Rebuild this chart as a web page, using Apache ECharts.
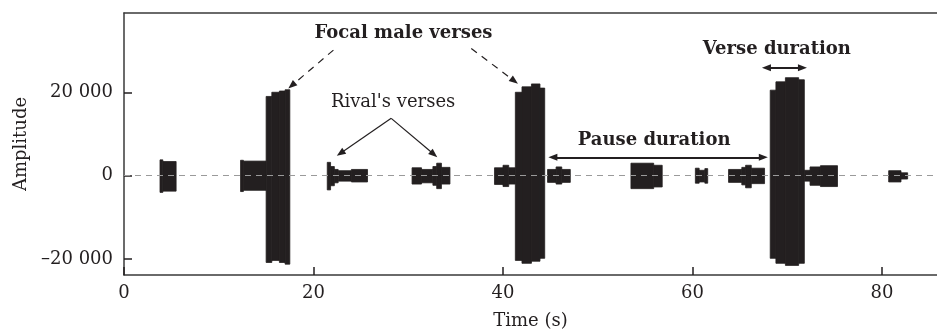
<!DOCTYPE html>
<html><head><meta charset="utf-8">
<script src="https://cdn.jsdelivr.net/npm/echarts@6/dist/echarts.min.js"></script>
<style>html,body{margin:0;padding:0;background:#fff}#c{width:937px;height:332px}</style>
</head><body><div id="c"></div>
<script>
// Waveform envelope segments (time in s, amplitude)
const segStart  = [3.8, 4.1, 12.3, 12.6, 15.0, 15.6, 16.4, 17.0,
  21.45, 21.8, 22.2, 22.6, 24.0,
  30.4, 31.4, 32.6, 33.0, 33.5,
  39.1, 40.0, 40.6,
  41.3, 42.0, 43.0, 43.9,
  44.7, 45.6, 46.2,
  53.5, 55.9,
  60.3, 60.7, 61.3,
  63.8, 65.2, 65.6, 66.2,
  68.2, 68.8, 69.8, 71.2,
  71.8, 72.4, 73.5,
  80.7, 82.0];
const segEnd    = [4.1, 5.5, 12.6, 15.0, 15.6, 16.4, 17.0, 17.5,
  21.8, 22.2, 22.6, 24.0, 25.7,
  31.4, 32.6, 33.0, 33.5, 34.4,
  40.0, 40.6, 41.3,
  42.0, 43.0, 43.9, 44.4,
  45.6, 46.2, 47.1,
  55.9, 56.8,
  60.7, 61.3, 61.6,
  65.2, 65.6, 66.2, 67.6,
  68.8, 69.8, 71.2, 71.8,
  72.4, 73.5, 75.3,
  82.0, 82.7];
const segTop    = [3800, 3400, 3700, 3500, 19000, 20000, 20300, 20600,
  3200, 2200, 1500, 1200, 1500,
  1900, 1500, 2200, 3000, 2000,
  1900, 2500, 1900,
  20000, 21300, 22000, 21000,
  1500, 2100, 1500,
  3000, 2500,
  1800, 1300, 1700,
  1500, 2000, 2500, 1800,
  20500, 22500, 23500, 23000,
  1300, 2100, 2400,
  1200, 700];
const segBottom = [-4000, -3700, -3800, -3500, -20800, -20300, -20800, -21200,
  -3400, -2400, -1700, -1300, -1500,
  -2000, -1700, -2300, -3100, -2000,
  -2100, -2600, -2000,
  -20300, -21000, -20500, -19800,
  -1600, -2000, -1600,
  -3100, -2700,
  -1800, -1500, -1800,
  -1600, -2200, -2900, -1900,
  -19800, -21000, -21500, -21000,
  -1300, -2300, -2600,
  -1500, -800];

const xTicks = [0, 20, 40, 60, 80];
const yTicks = [-20000, 0, 20000];

// Annotations (data coordinates)
const textLabels = ['Focal male verses', "Rival's verses", 'Pause duration', 'Verse duration'];
const textX = [29.5, 28.4, 55.95, 68.9];
const textY = [34200, 17500, 8550, 30300];
const textBold = [true, false, true, true];

const dashedArrows = [[[22.1, 30100], [17.7, 21600]], [[36.65, 30500], [41.2, 22700]]];
const solidArrows = [[[28.2, 13750], [22.85, 5370]], [[28.2, 13750], [32.7, 5130]]];
const doubleArrows = [[[45.26, 4400], [67.47, 4400]], [[67.8, 25900], [71.6, 25900]]];

const FONT = 'DejaVu Serif';
const INK = '#231f20';
const AX = '#3a3a3a';

const segData = segStart.map((s, i) => [s, segEnd[i], segTop[i], segBottom[i]]);

function fmtY(v) {
  if (v === 0) return '0';
  const a = Math.abs(v);
  const s = String(a).replace(/\B(?=(\d{3})+(?!\d))/g, ' ');
  return (v < 0 ? '\u2013' : '') + s;
}

function mlPair(p, style, sym) {
  return [{coord: p[0], symbol: sym[0], lineStyle: style}, {coord: p[1], symbol: sym[1]}];
}

const chart = echarts.init(document.getElementById('c'), null, {renderer: 'canvas'});
const option = {
  animation: false,
  backgroundColor: '#fff',
  grid: {left: 124, top: 13, right: 0, bottom: 57, containLabel: false, outerBoundsMode: 'none'},
  xAxis: [{
    type: 'value', min: 0, max: 85.8, position: 'bottom',
    name: 'Time (s)', nameLocation: 'middle', nameGap: 37,
    nameTextStyle: {fontFamily: FONT, fontSize: 18, color: INK},
    axisLine: {show: true, onZero: false, lineStyle: {color: AX, width: 1.5}},
    axisTick: {show: true, inside: true, length: 8, customValues: xTicks, lineStyle: {color: INK, width: 1.5}},
    axisLabel: {customValues: xTicks, fontFamily: FONT, fontSize: 18, color: INK, margin: 9},
    splitLine: {show: false}
  }, {
    type: 'value', min: 0, max: 85.8, position: 'top',
    axisLine: {show: true, onZero: false, lineStyle: {color: AX, width: 1.5}},
    axisTick: {show: false}, axisLabel: {show: false}, splitLine: {show: false}
  }],
  yAxis: {
    type: 'value', min: -23800, max: 39000,
    name: 'Amplitude', nameLocation: 'middle', nameGap: 92, nameRotate: 90,
    nameTextStyle: {fontFamily: FONT, fontSize: 18, color: INK},
    axisLine: {show: true, onZero: false, lineStyle: {color: AX, width: 1.5}},
    axisTick: {show: true, inside: true, length: 8, customValues: yTicks, lineStyle: {color: INK, width: 1.5}},
    axisLabel: {customValues: yTicks, formatter: fmtY, fontFamily: FONT, fontSize: 18, color: INK, margin: 11},
    splitLine: {show: false}
  },
  series: [{
    type: 'custom',
    data: segData,
    encode: {x: [0, 1], y: [2, 3]},
    renderItem: function (params, api) {
      const p1 = api.coord([api.value(0), api.value(2)]);
      const p2 = api.coord([api.value(1), api.value(3)]);
      return {type: 'rect', shape: {x: p1[0], y: p1[1], width: p2[0] - p1[0], height: p2[1] - p1[1]},
        style: {fill: INK, stroke: INK, lineWidth: 0.8}};
    },
    z: 2
  }, {
    type: 'line', data: [], z: 5,
    markLine: {
      silent: true, animation: false, symbolSize: [7, 9],
      label: {show: false},
      data: [
        [{yAxis: 0, x: 124, symbol: 'none', lineStyle: {color: '#9a9a9a', width: 1, type: [6, 5]}}, {yAxis: 0, x: 937, symbol: 'none'}]
      ].concat(
        dashedArrows.map(p => mlPair(p, {color: INK, width: 1.2, type: [7, 6]}, ['none', 'triangle'])),
        solidArrows.map(p => mlPair(p, {color: INK, width: 1.2, type: 'solid'}, ['none', 'triangle'])),
        doubleArrows.map(p => mlPair(p, {color: INK, width: 2, type: 'solid'}, ['triangle', 'triangle']))
      )
    }
  }]
};
chart.setOption(option);

const graphics = textLabels.map((t, i) => {
  const p = chart.convertToPixel({xAxisIndex: 0, yAxisIndex: 0}, [textX[i], textY[i]]);
  return {type: 'text', x: p[0], y: p[1], z: 10,
    style: {text: t, fill: INK, font: (textBold[i] ? 'bold ' : '') + '18px "' + FONT + '"',
      textAlign: 'center', textVerticalAlign: 'middle'}};
});
chart.setOption({graphic: graphics});
</script></body></html>
